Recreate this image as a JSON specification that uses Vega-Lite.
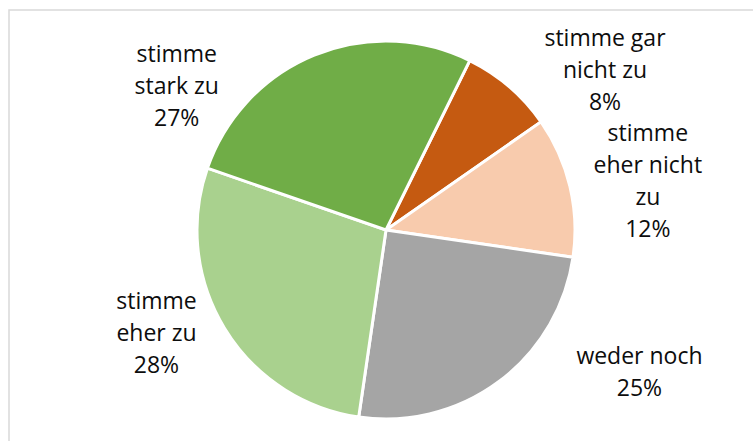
{
  "$schema": "https://vega.github.io/schema/vega-lite/v6.json",
  "width": 760,
  "height": 440,
  "autosize": {"type": "none"},
  "padding": {"left": 9, "top": 10, "right": 0, "bottom": 0},
  "background": "white",
  "view": {"stroke": "#d9d9d9", "strokeWidth": 1.5},
  "data": {
    "values": [
      {"idx": 1, "cat": "stimme gar nicht zu", "value": 8, "label": ["stimme gar", "nicht zu", "8%"]},
      {"idx": 2, "cat": "stimme eher nicht zu", "value": 12, "label": ["stimme", "eher nicht", "zu", "12%"]},
      {"idx": 3, "cat": "weder noch", "value": 25, "label": ["weder noch", "25%"]},
      {"idx": 4, "cat": "stimme eher zu", "value": 28, "label": ["stimme", "eher zu", "28%"]},
      {"idx": 5, "cat": "stimme stark zu", "value": 27, "label": ["stimme", "stark zu", "27%"]}
    ]
  },
  "encoding": {
    "theta": {"field": "value", "type": "quantitative", "stack": true, "scale": {"range": [0.459, 6.7422]}},
    "order": {"field": "idx", "type": "quantitative"}
  },
  "layer": [
    {
      "mark": {"type": "arc", "outerRadius": 189, "stroke": "white", "strokeWidth": 3, "x": 377, "y": 220},
      "encoding": {
        "color": {
          "field": "cat",
          "type": "nominal",
          "legend": null,
          "scale": {
            "domain": ["stimme gar nicht zu", "stimme eher nicht zu", "weder noch", "stimme eher zu", "stimme stark zu"],
            "range": ["#C55A11", "#F8CBAD", "#A5A5A5", "#A9D18E", "#70AD47"]
          }
        }
      }
    },
    {
      "mark": {"type": "text", "x": 377, "y": 220, "radius": 230, "dx": 69, "dy": -17, "font": "Open Sans", "fontSize": 23, "lineHeight": 32, "color": "#0d0d0d", "align": "center", "baseline": "middle"},
      "encoding": {"text": {"condition": {"test": "datum.idx == 1", "field": "label"}, "value": ""}}
    },
    {
      "mark": {"type": "text", "x": 377, "y": 220, "radius": 230, "dx": 38, "dy": -43, "font": "Open Sans", "fontSize": 23, "lineHeight": 32, "color": "#0d0d0d", "align": "center", "baseline": "middle"},
      "encoding": {"text": {"condition": {"test": "datum.idx == 2", "field": "label"}, "value": ""}}
    },
    {
      "mark": {"type": "text", "x": 377, "y": 220, "radius": 230, "dx": 116, "dy": -57, "font": "Open Sans", "fontSize": 23, "lineHeight": 32, "color": "#0d0d0d", "align": "center", "baseline": "middle"},
      "encoding": {"text": {"condition": {"test": "datum.idx == 3", "field": "label"}, "value": ""}}
    },
    {
      "mark": {"type": "text", "x": 377, "y": 220, "radius": 230, "dx": -33, "dy": -47, "font": "Open Sans", "fontSize": 23, "lineHeight": 32, "color": "#0d0d0d", "align": "center", "baseline": "middle"},
      "encoding": {"text": {"condition": {"test": "datum.idx == 4", "field": "label"}, "value": ""}}
    },
    {
      "mark": {"type": "text", "x": 377, "y": 220, "radius": 230, "dx": -122, "dy": 38, "font": "Open Sans", "fontSize": 23, "lineHeight": 32, "color": "#0d0d0d", "align": "center", "baseline": "middle"},
      "encoding": {"text": {"condition": {"test": "datum.idx == 5", "field": "label"}, "value": ""}}
    }
  ]
}
